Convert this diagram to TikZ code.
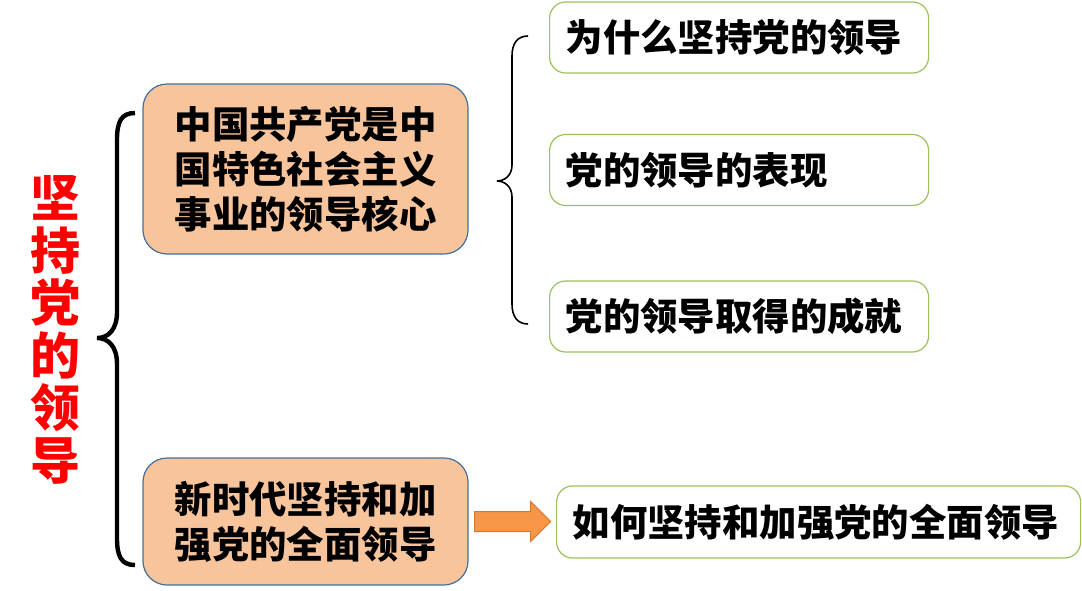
\documentclass[tikz,border=0pt]{standalone}
\usepackage{fontspec}
\usepackage{xcolor}
\newfontfamily\cjk{Noto Sans CJK SC Black}
\usetikzlibrary{positioning,calc}
\definecolor{peach}{HTML}{F8C49C}
\definecolor{boxblue}{HTML}{41719C}
\definecolor{leafgreen}{HTML}{9BC15A}
\definecolor{arrowfill}{HTML}{F79646}
\definecolor{arrowline}{HTML}{D9782F}

\begin{document}
\begin{tikzpicture}[x=0.5pt,y=-0.5pt,
    core/.style={draw=boxblue, fill=peach, rounded corners=12pt, line width=0.6pt, minimum width=162.5pt, align=left, font=\cjk\fontsize{18.7}{22.5}\selectfont},
    item/.style={draw=leafgreen, rounded corners=8pt, line width=0.6pt, minimum height=35.5pt, inner xsep=8pt, anchor=west, align=left, font=\cjk\fontsize{18.7}{22}\selectfont}]
    \useasboundingbox (0,0) rectangle (1082,590);
    \node[text=red, align=center, font=\cjk\fontsize{25}{26.25}\selectfont] (title) at (55,330) {坚\\持\\党\\的\\领\\导};
    \node[core, minimum height=85pt] (core) at (305.5,169) {中国共产党是中\\国特色社会主义\\事业的领导核心};
    \node[core, minimum height=63.5pt] (new) at (305.5,521.5) {新时代坚持和加\\强党的全面领导};
    \node[item, text width=173.5pt] (why) at (549,37.5) {为什么坚持党的领导};
    \node[item, text width=173.5pt] (show) at (549,170) {党的领导的表现};
    \node[item, text width=173.5pt] (gain) at (549,316.5) {党的领导取得的成就};
    \node[item, text width=246pt, minimum height=36pt] (how) at (556,522) {如何坚持和加强党的全面领导};
    % big brace
    \coordinate (bigtop) at (135,113);
    \coordinate (bigtip) at (97,338);
    \coordinate (bigbot) at (135,565);
    \draw[line width=2.2pt] (bigtop) .. controls (121,113) and (117,122) .. (117,140) -- (117,312) .. controls (117,330) and (108,338) .. (bigtip) .. controls (108,338) and (117,346) .. (117,364) -- (117,538) .. controls (117,556) and (121,565) .. (bigbot);
    % small brace
    \coordinate (smalltop) at (528,36);
    \coordinate (smalltip) at (497,181);
    \coordinate (smallbot) at (528,324);
    \draw[line width=0.8pt] (smalltop) .. controls (517,36) and (512,44) .. (512,56) -- (512,165) .. controls (512,176) and (504,181) .. (smalltip) .. controls (504,181) and (512,186) .. (512,197) -- (512,304) .. controls (512,316) and (517,324) .. (smallbot);
    % block arrow
    \draw[fill=arrowfill, draw=arrowline, line width=0.5pt] ($(new.east)+(6,-10)$) -- ++(56,0) -- ++(0,-10) -- ++(20,20) -- ++(-20,20) -- ++(0,-10) -- ++(-56,0) -- cycle;
\end{tikzpicture}
\end{document}
